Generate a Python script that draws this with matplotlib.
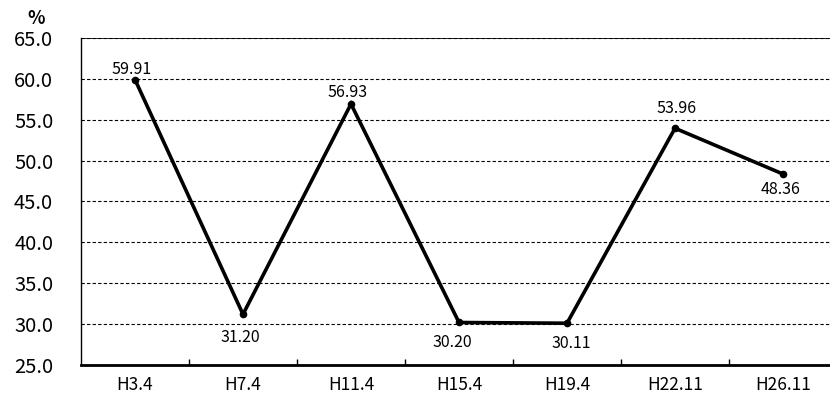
import matplotlib
matplotlib.use("Agg")
import matplotlib.pyplot as plt

plt.rcParams["font.family"] = ["Noto Sans CJK JP", "DejaVu Sans"]

# ===== data =====
periods = ["H3.4", "H7.4", "H11.4", "H15.4", "H19.4", "H22.11", "H26.11"]
rates = [59.91, 31.20, 56.93, 30.20, 30.11, 53.96, 48.36]
y_ticks = [25.0, 30.0, 35.0, 40.0, 45.0, 50.0, 55.0, 60.0, 65.0]
# ================

# value label offsets from each point, in pixels (dx, dy up)
label_shift = [(-3, 10.5), (-3, -23.5), (-3, 11.5), (-7, -20),
               (4, -20), (2, 20), (-2, -15)]

fig = plt.figure(figsize=(8.30, 3.97), dpi=100)
ax = fig.add_axes([81 / 830, 32 / 397, 756 / 830, 327 / 397])

x = list(range(len(periods)))
ax.plot(x, rates, color="black", linewidth=2.6, marker="o", markersize=4.5,
        solid_joinstyle="miter")

for xi, val, (dx, dy) in zip(x, rates, label_shift):
    ax.annotate(f"{val:.2f}", (xi, val), xytext=(dx * 0.72, dy * 0.72),
                textcoords="offset points", ha="center", va="center",
                fontsize=11.5)

ax.set_xlim(-0.5, len(periods) - 0.5)
ax.set_ylim(25, 65)
ax.set_yticks(y_ticks)
ax.set_yticklabels([f"{v:.1f}" for v in y_ticks], fontsize=14.5)
ax.set_xticks(x)
ax.set_xticklabels(periods, fontsize=12.5)
ax.set_xticks([i + 0.5 for i in x[:-1]], minor=True)

ax.tick_params(axis="x", which="major", length=0, pad=8)
ax.tick_params(axis="x", which="minor", length=4, width=1, direction="in")
ax.tick_params(axis="y", length=0, pad=20)

ax.yaxis.grid(True, linestyle=(0, (3, 2)), color="black", linewidth=0.8)
ax.set_axisbelow(True)
for side in ["top", "right"]:
    ax.spines[side].set_visible(False)
ax.spines["left"].set_linewidth(1.0)
ax.spines["bottom"].set_linewidth(2.0)
ax.axhline(65, color="black", linewidth=1.2)

fig.text(36 / 830, 1 - 19 / 397, "%", fontsize=13, fontweight="bold",
         ha="center", va="center")

fig.savefig("out.png", dpi=100, facecolor="white")
plt.close(fig)
